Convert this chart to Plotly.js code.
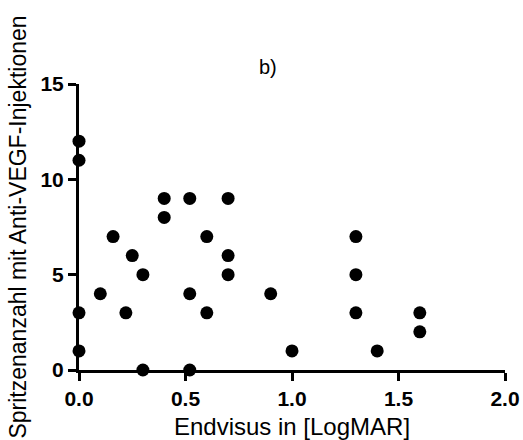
<!DOCTYPE html>
<html>
<head>
<meta charset="utf-8">
<script src="https://cdn.plot.ly/plotly-3.0.1.min.js"></script>
<style>html,body{margin:0;padding:0;background:#fff;}#chart{width:523px;height:440px;}</style>
</head>
<body>
<div id="chart"></div>
<script>
const endvisus = [0, 0, 0, 0, 0.1, 0.16, 0.25, 0.22, 0.3, 0.3, 0.4, 0.4, 0.52, 0.52, 0.52, 0.6, 0.6, 0.7, 0.7, 0.7, 0.9, 1.0, 1.3, 1.3, 1.3, 1.4, 1.6, 1.6];
const injektionen = [12, 11, 3, 1, 4, 7, 6, 3, 5, 0, 9, 8, 9, 4, 0, 7, 3, 9, 6, 5, 4, 1, 7, 5, 3, 1, 3, 2];
const xTicks = [0, 0.5, 1.0, 1.5, 2.0];
const yTicks = [0, 5, 10, 15];

const font = 'Liberation Sans, Arial, sans-serif';
Plotly.newPlot('chart', [{
  x: endvisus, y: injektionen, type: 'scatter', mode: 'markers',
  marker: {color: '#000', size: 13},
  cliponaxis: false, hoverinfo: 'none'
}], {
  width: 523, height: 440,
  margin: {l: 79, r: 18, t: 84, b: 70},
  paper_bgcolor: '#fff', plot_bgcolor: '#fff',
  showlegend: false,
  title: {text: 'b)', x: 0.512, xanchor: 'center', y: 0.848, yanchor: 'middle',
          font: {family: font, size: 20, color: '#000'}},
  xaxis: {
    range: [0, 2], tickvals: xTicks, tickformat: '.1f',
    showgrid: false, zeroline: false,
    showline: true, linecolor: '#000', linewidth: 3,
    ticks: 'outside', ticklen: 8, tickwidth: 3, tickcolor: '#000',
    tickfont: {family: font, size: 21, color: '#000', weight: 700},
    title: {text: 'Endvisus in [LogMAR]', standoff: 10, font: {family: font, size: 24, color: '#000'}}
  },
  yaxis: {
    range: [0, 15], tickvals: yTicks,
    showgrid: false, zeroline: false,
    showline: true, linecolor: '#000', linewidth: 3,
    ticks: 'outside', ticklen: 8, tickwidth: 3, tickcolor: '#000',
    tickfont: {family: font, size: 21, color: '#000', weight: 700},
    title: {text: 'Spritzenanzahl mit Anti-VEGF-Injektionen', standoff: 8, font: {family: font, size: 23, color: '#000'}}
  }
}, {staticPlot: true});
</script>
</body>
</html>
